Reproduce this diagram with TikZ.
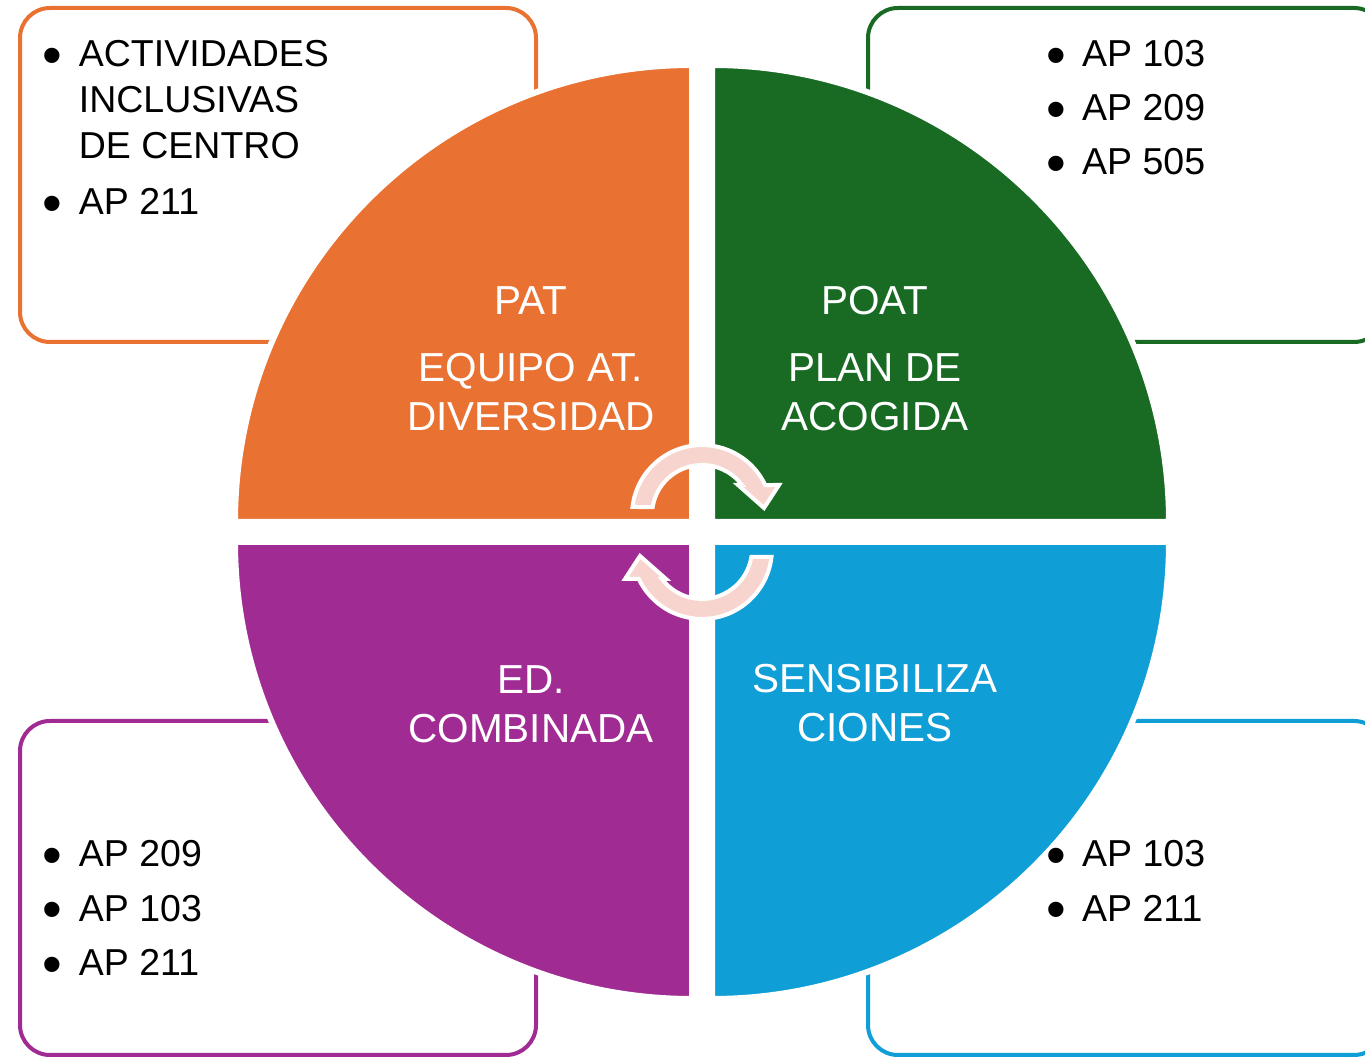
\documentclass[tikz,border=0pt]{standalone}
\usepackage{fontspec}
\setmainfont{Liberation Sans}
\definecolor{patorange}{HTML}{E97132}
\definecolor{poatgreen}{HTML}{196B24}
\definecolor{edpurple}{HTML}{A02B93}
\definecolor{sensblue}{HTML}{0F9ED5}
\definecolor{arrowpink}{HTML}{F7D5CE}
\newcommand{\listdot}{\raisebox{-7.5pt}{\scalebox{1.5}{\textbullet}}}
\begin{document}
\begin{tikzpicture}[x=1pt, y=1pt,
  listbox/.style={line width=4pt, rounded corners=30pt, fill=white},
  quarter/.style={draw=white, line width=6pt},
  quadtext/.style={text=white, inner sep=0pt, anchor=base, font=\fontsize{40.5}{49}\selectfont},
  itemlist/.style={inner sep=0pt, anchor=base west, font=\fontsize{37.5}{46}\selectfont},
  cyclearrow/.style={fill=arrowpink, draw=white, line width=4pt}]
\clip (0,0) rectangle (1365,1057);
% boxes behind the circle
\draw[listbox, draw=patorange] (20,1049) rectangle (536,715);
\draw[listbox, draw=poatgreen] (868,1049) rectangle (1384,715);
\draw[listbox, draw=edpurple] (20,336) rectangle (536,2);
\draw[listbox, draw=sensblue] (868,336) rectangle (1384,2);
% four quarters
\filldraw[quarter, fill=patorange] (692,535) -- ++(-457,0) arc[start angle=180, end angle=90, radius=457] -- cycle;
\filldraw[quarter, fill=poatgreen] (712,535) -- ++(457,0) arc[start angle=0, end angle=90, radius=457] -- cycle;
\filldraw[quarter, fill=edpurple] (692,515) -- ++(-457,0) arc[start angle=180, end angle=270, radius=457] -- cycle;
\filldraw[quarter, fill=sensblue] (712,515) -- ++(457,0) arc[start angle=360, end angle=270, radius=457] -- cycle;
% cycle arrows
\foreach \turn in {0,180}{
  \begin{scope}[rotate around={\turn:(702,525)}]
    \filldraw[cyclearrow, shift={(702,542)}] (-69.5,8) arc[start angle=173.4, end angle=25.4, radius=70]
      -- (77,30) -- (62,7) -- (36,30) -- (40,30)
      arc[start angle=36.9, end angle=170.8, radius=50] -- cycle;
  \end{scope}
}
% quarter labels
\node[quadtext] (pat) at (531,742) {\begin{tabular}[t]{@{}c@{}}PAT\\[18pt]EQUIPO AT.\\DIVERSIDAD\end{tabular}};
\node[quadtext] (poat) at (875,742) {\begin{tabular}[t]{@{}c@{}}POAT\\[18pt]PLAN DE\\ACOGIDA\end{tabular}};
\node[quadtext] (edcomb) at (531,363) {\begin{tabular}[t]{@{}c@{}}ED.\\COMBINADA\end{tabular}};
\node[quadtext] (sensib) at (875,364) {\begin{tabular}[t]{@{}c@{}}SENSIBILIZA\\CIONES\end{tabular}};
% bullet lists
\node[itemlist] (patlist) at (42.7,990) {\begin{tabular}[t]{@{}p{36pt}@{}l@{}}
  \listdot & ACTIVIDADES\\
  & INCLUSIVAS\\
  & DE CENTRO\\[10pt]
  \listdot & AP 211\end{tabular}};
\node[itemlist] (poatlist) at (1046,990) {\begin{tabular}[t]{@{}p{36pt}@{}l@{}}
  \listdot & AP 103\\[8pt]
  \listdot & AP 209\\[8pt]
  \listdot & AP 505\end{tabular}};
\node[itemlist] (edlist) at (42.7,190) {\begin{tabular}[t]{@{}p{36pt}@{}l@{}}
  \listdot & AP 209\\[8.5pt]
  \listdot & AP 103\\[8.5pt]
  \listdot & AP 211\end{tabular}};
\node[itemlist] (senslist) at (1046,190) {\begin{tabular}[t]{@{}p{36pt}@{}l@{}}
  \listdot & AP 103\\[8.5pt]
  \listdot & AP 211\end{tabular}};
\end{tikzpicture}
\end{document}
